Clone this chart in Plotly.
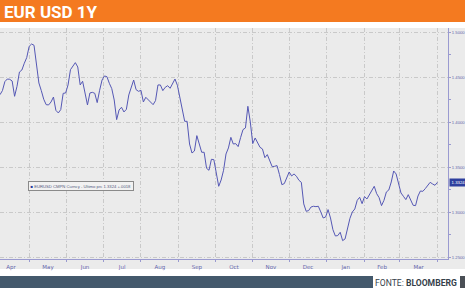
import pandas as pd
import plotly.graph_objects as go

# EUR/USD closes, sampled every 2 days from 2011-04-07
start_date = "2011-04-07"
step = "2D"
eurusd = [
    1.4307, 1.4352, 1.4452, 1.4481, 1.4478, 1.4459, 1.4289, 1.4400, 1.4559, 1.4581,
    1.4656, 1.4719, 1.4844, 1.4870, 1.4856, 1.4611, 1.4437, 1.4352, 1.4256, 1.4196,
    1.4193, 1.4226, 1.4281, 1.4133, 1.4104, 1.4141, 1.4322, 1.4326, 1.4415, 1.4585,
    1.4619, 1.4663, 1.4615, 1.4415, 1.4456, 1.4326, 1.4193, 1.4326, 1.4333, 1.4322,
    1.4219, 1.4356, 1.4470, 1.4515, 1.4507, 1.4433, 1.4374, 1.4248, 1.4030, 1.4137,
    1.4167, 1.4115, 1.4144, 1.4304, 1.4378, 1.4470, 1.4363, 1.4344, 1.4356, 1.4226,
    1.4278, 1.4252, 1.4222, 1.4196, 1.4241, 1.4415, 1.4415, 1.4352, 1.4389, 1.4407,
    1.4378, 1.4430, 1.4481, 1.4411, 1.4274, 1.4133, 1.4011, 1.4011, 1.3759, 1.3659,
    1.3681, 1.3852, 1.3744, 1.3667, 1.3667, 1.3489, 1.3467, 1.3589, 1.3585, 1.3415,
    1.3289, 1.3359, 1.3467, 1.3648, 1.3715, 1.3833, 1.3759, 1.3763, 1.3730, 1.3830,
    1.3919, 1.3937, 1.4178, 1.4004, 1.3763, 1.3826, 1.3778, 1.3722, 1.3704, 1.3607,
    1.3641, 1.3563, 1.3507, 1.3511, 1.3519, 1.3419, 1.3307, 1.3319, 1.3396, 1.3448,
    1.3404, 1.3426, 1.3400, 1.3356, 1.3333, 1.3093, 1.3011, 1.3019, 1.3059, 1.3067,
    1.3063, 1.3067, 1.3004, 1.2937, 1.2948, 1.3030, 1.2937, 1.2807, 1.2737, 1.2741,
    1.2778, 1.2685, 1.2704, 1.2819, 1.2933, 1.3004, 1.3037, 1.3133, 1.3167, 1.3096,
    1.3174, 1.3148, 1.3200, 1.3252, 1.3289, 1.3207, 1.3163, 1.3074, 1.3133, 1.3226,
    1.3248, 1.3337, 1.3459, 1.3426, 1.3322, 1.3215, 1.3178, 1.3141, 1.3196, 1.3137,
    1.3078, 1.3074, 1.3181, 1.3237, 1.3233, 1.3263, 1.3293, 1.3333, 1.3315, 1.3300,
    1.3333,
]
dates = pd.date_range(start_date, periods=len(eurusd), freq=step)

title_text = "EUR USD 1Y"
source_label = "FONTE:"
source_name = "BLOOMBERG"
legend_text = "EURUSD CMPN Curncy - Ultimo prc 1.3324 +.0018"
last_label = "1.3324"
last_value = 1.3333
x_range = ["2011-04-07", "2012-04-09 17:00"]
y_range = [1.2481, 1.5048]

W, H = 465, 288
def py(px):  # pixel from top -> paper y
    return 1 - px / H
def pxx(px):
    return px / W

LINE = "#5558b5"
AXIS = "#9a9ad0"
TICKTXT = "#6567ad"
GRID = "#c9c9c9"

fig = go.Figure()
fig.add_trace(go.Scatter(x=dates, y=eurusd, mode="lines",
                         line=dict(color=LINE, width=1), hoverinfo="skip",
                         showlegend=False))

shapes = [
    dict(type="rect", xref="paper", yref="paper", x0=0, x1=1, y0=py(22), y1=1,
         fillcolor="#f47a20", line_width=0, layer="below"),
    dict(type="rect", xref="paper", yref="paper", x0=0, x1=1, y0=py(269), y1=py(28),
         fillcolor="#ebebeb", line_width=0, layer="below"),
    dict(type="rect", xref="paper", yref="paper", x0=0, x1=pxx(373), y0=0, y1=py(276),
         fillcolor="#44596c", line_width=0, layer="below"),
    dict(type="rect", xref="paper", yref="paper", x0=pxx(460), x1=1, y0=0, y1=py(276),
         fillcolor="#4a4f55", line_width=0, layer="below"),
]

annotations = [
    dict(text="<b>" + title_text + "</b>", xref="paper", yref="paper",
         x=pxx(2), y=py(11.5), xanchor="left", yanchor="middle", showarrow=False,
         font=dict(family="Roboto", size=17, color="white")),
    dict(text=source_label + " <b>" + source_name + "</b>", xref="paper", yref="paper",
         x=pxx(459), y=py(282.5), xanchor="right", yanchor="middle", showarrow=False,
         font=dict(family="Roboto", size=8.6, color="#363f4a")),
    dict(text='<span style="color:#2b3b9e">■</span> ' + legend_text,
         xref="paper", yref="paper", x=pxx(28), y=py(185.5), xanchor="left",
         yanchor="middle", showarrow=False, bgcolor="#f2f2f2",
         bordercolor="#8a8a8a", borderwidth=1, borderpad=1.5,
         font=dict(family="Liberation Sans", size=4.2, color="#555a80")),
    dict(text=last_label, xref="paper", yref="y", x=pxx(448.5), y=last_value,
         xanchor="left", yanchor="middle", showarrow=False, bgcolor="#2e3f9e",
         borderpad=1, width=15,
         font=dict(family="Liberation Sans", size=4.3, color="white")),
]

fig.update_layout(
    width=W, height=H,
    margin=dict(l=0, r=0, t=0, b=0),
    paper_bgcolor="white",
    plot_bgcolor="rgba(0,0,0,0)",
    shapes=shapes,
    annotations=annotations,
    xaxis=dict(
        domain=[0, pxx(448)], range=x_range, type="date",
        dtick="M1", tick0="2011-05-01", ticklabelmode="period", tickformat="%b",
        showgrid=True, gridcolor=GRID, griddash="4px,2px,1px,2px", gridwidth=1,
        ticks="outside", ticklen=2, tickcolor=AXIS,
        showline=True, linecolor=AXIS, linewidth=1,
        tickfont=dict(family="DejaVu Sans", size=5.5, color=TICKTXT),
        zeroline=False, automargin=False, fixedrange=True,
    ),
    yaxis=dict(
        domain=[py(259), py(28)], range=y_range, side="right",
        tick0=1.25, dtick=0.05, tickformat=".4f",
        showgrid=True, gridcolor=GRID, griddash="4px,2px,1px,2px", gridwidth=1,
        ticks="outside", ticklen=2, tickcolor=AXIS,
        minor=dict(dtick=0.025, tick0=1.25, ticks="outside", ticklen=2,
                   tickcolor=AXIS, showgrid=False),
        showline=True, linecolor=AXIS, linewidth=1,
        tickfont=dict(family="Liberation Sans", size=4.2, color=TICKTXT),
        zeroline=False, automargin=False, fixedrange=True,
    ),
)

fig.write_html("out.html")
